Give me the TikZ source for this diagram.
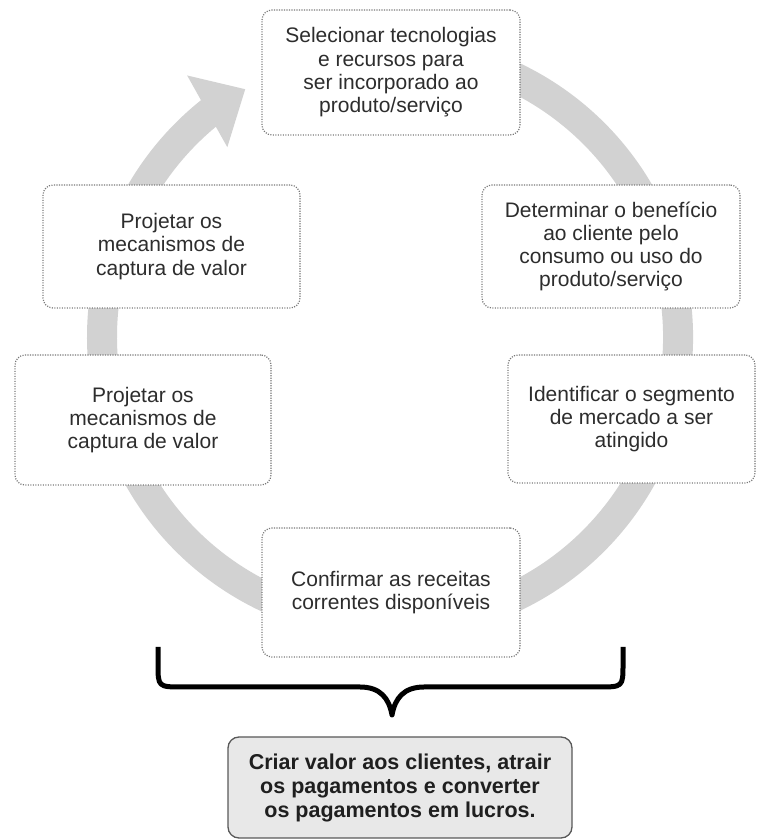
\documentclass[tikz,border=0pt]{standalone}
\usepackage{fontspec}
\setmainfont{Liberation Sans}
\definecolor{ringgray}{RGB}{210,210,210}
\definecolor{boxborder}{RGB}{120,120,120}
\definecolor{txt}{RGB}{45,45,45}
\definecolor{goalfill}{RGB}{232,232,232}
\tikzset{
  stepbox/.style={draw=boxborder, line width=1.2pt, dash pattern=on 1.1pt off 1.4pt,
    rounded corners=10pt, fill=white, align=center, text=txt, inner sep=0pt,
    font=\fontsize{21}{23.3}\selectfont},
  goalbox/.style={draw=black!65, line width=1.3pt, rounded corners=11pt, fill=goalfill,
    align=center, text=black!88, inner sep=0pt,
    font=\bfseries\fontsize{21.5}{24}\selectfont},
  ring/.style={draw=ringgray, line width=30pt},
  bracestyle/.style={draw=black, line width=5pt, line cap=butt, line join=round}
}
\begin{document}
\begin{tikzpicture}[x=1pt,y=1pt]
\useasboundingbox (0,0) rectangle (756,840);
\coordinate (c) at (390,503);
% ring with arrow
\draw[ring] ([shift={(105:288pt)}]c) arc[start angle=105, end angle=-231.5, radius=288pt];
\fill[ringgray] ([shift={(120.3:287pt)}]c) -- ([shift={(127.8:331pt)}]c) -- ([shift={(130.6:250pt)}]c) -- cycle;
% boxes
\node[stepbox, minimum width=258pt, minimum height=125pt] (top) at (391,767.5)
  {Selecionar tecnologias\\e recursos para\\ser incorporado ao\\produto/serviço};
\node[stepbox, minimum width=258pt, minimum height=123pt] (rt) at (611,593.5)
  {Determinar o benefício\\ao cliente pelo\\consumo ou uso do\\produto/serviço};
\node[stepbox, minimum width=247pt, minimum height=128pt] (rb) at (631.5,421)
  {Identificar o segmento\\de mercado a ser\\atingido};
\node[stepbox, minimum width=257pt, minimum height=123pt] (lt) at (171.5,593.5)
  {Projetar os\\mecanismos de\\captura de valor};
\node[stepbox, minimum width=256pt, minimum height=130pt] (lb) at (143,420)
  {Projetar os\\mecanismos de\\captura de valor};
\node[stepbox, minimum width=258pt, minimum height=129pt] (bot) at (391,247.5)
  {Confirmar as receitas\\correntes disponíveis};
% brace
\coordinate (braceL) at (158,193);
\coordinate (braceR) at (623,193);
\coordinate (braceTip) at (392,125);
\draw[bracestyle] (braceL) -- (158,176) .. controls (158,153) .. (183,153) -- (360,153)
  .. controls (380,153) and (389,142) .. (braceTip)
  .. controls (395,142) and (404,153) .. (424,153) -- (598,153)
  .. controls (623,153) .. (623,176) -- (braceR);
% goal box
\node[goalbox, minimum width=344pt, minimum height=101pt] (goal) at (400,52.5)
  {Criar valor aos clientes, atrair\\os pagamentos e converter\\os pagamentos em lucros.};
\end{tikzpicture}
\end{document}
